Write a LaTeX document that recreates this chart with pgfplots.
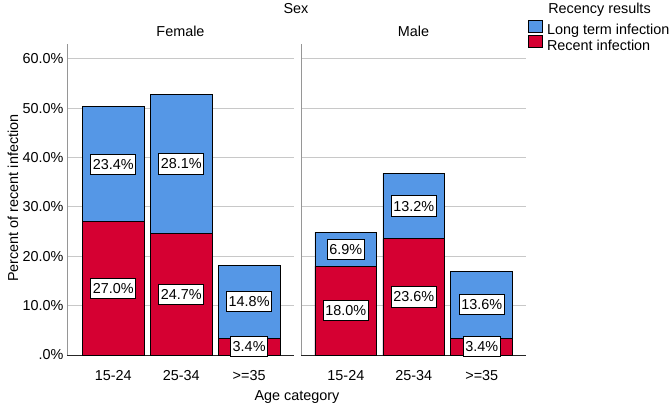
\documentclass[border=0pt]{standalone}
\usepackage{fontspec}
\setmainfont{Liberation Sans}
\usepackage{pgfplots}
\pgfplotsset{compat=1.18}
\usepackage{pgfplotstable}

\definecolor{longblue}{RGB}{85,151,230}
\definecolor{recentred}{RGB}{213,0,50}
\definecolor{gridgray}{RGB}{200,200,200}
\definecolor{axisgray}{RGB}{150,150,150}

% percent of recent / long term infection by age category
\pgfplotstableread{
x recent long
0 27.0 23.4
1 24.7 28.1
2 3.4 14.8
}\female
\pgfplotstableread{
x recent long
0 18.0 6.9
1 23.6 13.2
2 3.4 13.6
}\male

\newcommand\chartfont{\fontsize{14.4bp}{17bp}\selectfont}

\pgfplotsset{
  panel/.style={
    scale only axis, height=311bp,
    ymin=0, ymax=63.04,
    ytick={0,10,...,60},
    ymajorgrids, grid style={gridgray, line width=1bp},
    xtick={0,1,2}, xticklabels={15-24,25-34,>=35},
    axis x line*=bottom, axis y line*=left,
    x axis line style={black!85, line width=1bp, -},
    y axis line style={axisgray, line width=1bp, -},
    major tick length=0pt,
    tick label style={font=\chartfont},
    xticklabel style={anchor=base, yshift=-25bp},
    clip=false,
    /pgf/number format/assume math mode=true,
  },
  seg/.style={ybar, bar width=0.91, bar shift=0pt, draw=black, line width=0.8bp, fill=#1},
  lbl/.style={draw=none, mark=none, forget plot,
    point meta=explicit,
    nodes near coords={\pgfmathprintnumber[fixed,fixed zerofill,precision=1]{\pgfplotspointmeta}\%},
    nodes near coords style={anchor=center, font=\chartfont, fill=white, draw=black,
      line width=0.8bp, inner xsep=2bp, inner ysep=5bp, text height=10.3bp, text depth=0bp}},
}

\begin{document}
\begin{tikzpicture}
\path[use as bounding box] (0,0) rectangle (669bp,403bp);

\begin{axis}[panel, at={(67bp,48bp)}, width=227bp,
    xmin=-0.68, xmax=2.66,
    yticklabels={.0\%,10.0\%,20.0\%,30.0\%,40.0\%,50.0\%,60.0\%}]
  \addplot[seg=longblue] table[x=x, y expr=\thisrow{recent}+\thisrow{long}] {\female};
  \addplot[seg=recentred] table[x=x, y=recent] {\female};
  \addplot[lbl] table[x=x, y expr=\thisrow{recent}/2, meta=recent] {\female};
  \addplot[lbl] table[x=x, y expr=\thisrow{recent}+\thisrow{long}/2, meta=long] {\female};
\end{axis}

\begin{axis}[panel, at={(301bp,48bp)}, width=225bp,
    xmin=-0.66, xmax=2.65,
    yticklabels={},
    legend style={at={(axis description cs:1.0089,1.0788)}, anchor=north west,
      draw=none, fill=none, inner sep=0pt, row sep=-2.5bp, column sep=4bp,
      font=\chartfont, nodes={inner sep=0bp, text height=10.5bp, text depth=3bp}},
    legend cell align=left,
    legend image code/.code={\draw[#1, line width=0.8bp] (0bp,-1bp) rectangle (14bp,11bp);}]
  \addplot[seg=longblue] table[x=x, y expr=\thisrow{recent}+\thisrow{long}] {\male};
  \addlegendentry{Long term infection}
  \addplot[seg=recentred] table[x=x, y=recent] {\male};
  \addlegendentry{Recent infection}
  \addplot[lbl] table[x=x, y expr=\thisrow{recent}/2, meta=recent] {\male};
  \addplot[lbl] table[x=x, y expr=\thisrow{recent}+\thisrow{long}/2, meta=long] {\male};
\end{axis}

\node[font=\chartfont, anchor=base] at (296bp,389bp) {Sex};
\node[font=\chartfont, anchor=base] at (180.5bp,366bp) {Female};
\node[font=\chartfont, anchor=base] at (413.5bp,366bp) {Male};
\node[font=\chartfont, anchor=base] at (599.5bp,389bp) {Recency results};
\node[font=\chartfont, anchor=base] at (297bp,3bp) {Age category};
\node[font=\chartfont, anchor=base, rotate=90] at (18bp,205bp) {Percent of recent infection};
\end{tikzpicture}
\end{document}
